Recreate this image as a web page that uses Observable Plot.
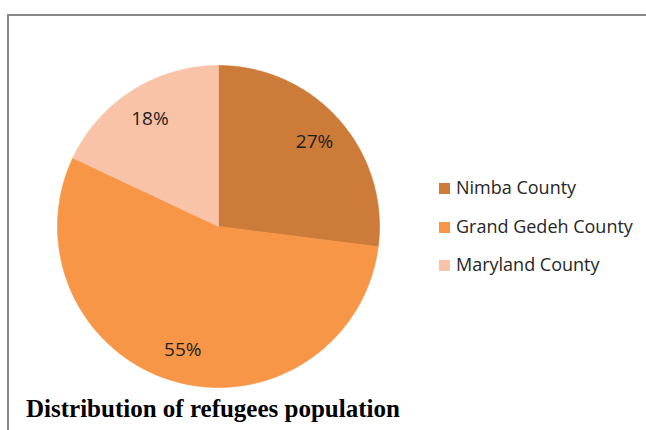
<!DOCTYPE html>
<html><head><meta charset="utf-8">
<script src="https://cdn.jsdelivr.net/npm/d3@7"></script>
<script src="https://cdn.jsdelivr.net/npm/@observablehq/plot@0.6"></script>
<style>
body{margin:0;background:#fff;}
#wrap{position:relative;width:646px;height:430px;overflow:hidden;background:#fff;}
#chart{position:absolute;left:0;top:0;}
#frame{position:absolute;left:7px;top:14px;width:800px;height:600px;border-top:2px solid #878787;border-left:2px solid #878787;}
.item{position:absolute;left:439px;height:20px;line-height:20px;font-family:"Open Sans",sans-serif;font-size:18px;color:#262626;white-space:nowrap;}
.sw{display:inline-block;width:11px;height:11px;margin-right:6px;vertical-align:0;}
#title{position:absolute;left:26px;top:396px;line-height:25px;font-family:"Liberation Serif",serif;font-weight:bold;font-size:25px;color:#000;white-space:nowrap;}
</style></head>
<body><div id="wrap"><div id="frame"></div><div id="chart"></div><div id="title"></div></div>
<script>
const counties = ["Nimba County", "Grand Gedeh County", "Maryland County"];
const shares = [27, 55, 18];
const pctLabels = ["27%", "55%", "18%"];
const sliceColors = ["#CC7B38", "#F79646", "#F9C3A7"];
const chartTitle = "Distribution of refugees population";

const arcs = d3.pie().sort(null)(shares);
const pts = [];
arcs.forEach((a, i) => {
  pts.push({name: counties[i], x: 0, y: 0});
  const n = 120;
  for (let k = 0; k <= n; k++) {
    const t = a.startAngle + (a.endAngle - a.startAngle) * k / n;
    pts.push({name: counties[i], x: Math.sin(t), y: Math.cos(t)});
  }
  pts.push({name: counties[i], x: 0, y: 0});
});
const labs = arcs.map((a, i) => {
  const m = (a.startAngle + a.endAngle) / 2;
  return {label: pctLabels[i], x: 0.795 * Math.sin(m), y: 0.795 * Math.cos(m)};
});

const cx = 218, cy = 226, r = 161;
const plot = Plot.plot({
  width: 646, height: 430,
  x: {domain: [-1, 1], range: [cx - r, cx + r], axis: null},
  y: {domain: [-1, 1], range: [cy + r, cy - r], axis: null},
  color: {domain: counties, range: sliceColors},
  style: {background: "transparent"},
  marks: [
    Plot.line(pts, {x: "x", y: "y", z: "name", fill: "name", stroke: "name", strokeWidth: 0.6}),
    Plot.text(labs, {x: "x", y: "y", text: "label", fontSize: 19, fill: "#1e1e1e", fontFamily: "Open Sans"})
  ]
});
document.getElementById("chart").appendChild(plot);

counties.forEach((c, i) => {
  const d = document.createElement("div");
  d.className = "item";
  d.style.top = (177 + i * 38.5) + "px";
  d.innerHTML = `<span class="sw" style="background:${sliceColors[i]}"></span>${c}`;
  document.getElementById("wrap").appendChild(d);
});
document.getElementById("title").textContent = chartTitle;
</script></body></html>
